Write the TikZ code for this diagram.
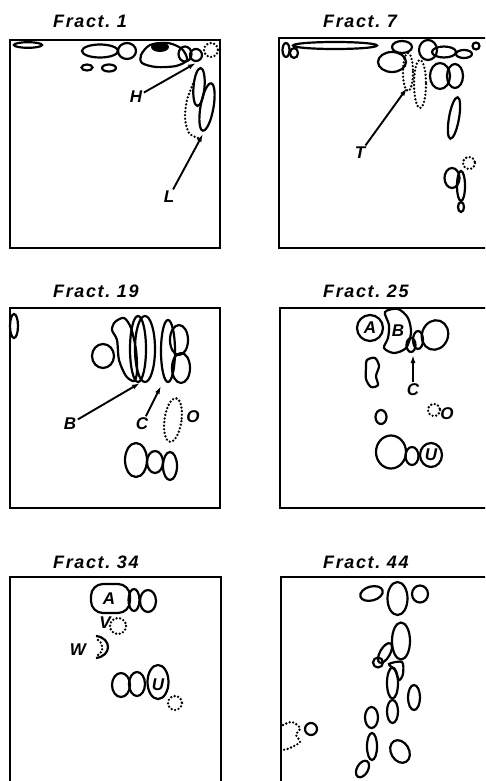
\documentclass[tikz,border=0pt]{standalone}
\usepackage{fontspec}
\newfontfamily\fractfont{Liberation Sans}[LetterSpace=9]
\usepackage{tikz}
\usetikzlibrary{arrows.meta}

\tikzset{
  frame/.style={line width=2.8pt},
  spot/.style={line width=2.2pt},
  dotspot/.style={line width=2.6pt, line cap=round, dash pattern=on 0pt off 3.6pt},
  fract/.style={font=\fractfont\bfseries\itshape\fontsize{18}{20}\selectfont, anchor=base west, inner sep=0pt},
  lbl/.style={font=\fractfont\bfseries\itshape\fontsize{17}{19}\selectfont, inner sep=1.5pt},
  arr/.style={line width=1.9pt, -{Latex[length=8pt,width=5pt]}}
}

\begin{document}
\begin{tikzpicture}[x=1pt, y=-1pt]
  \useasboundingbox (0,0) rectangle (485,781);
  \clip (0,0) rectangle (485,781);

  % --- Panel 1: Fract. 1 ---
  \draw[frame] (10,40) rectangle (220,248);
  \node[fract] (f1) at (53,28) {Fract.\ 1};
  \draw[spot] (28,45) ellipse [x radius=14, y radius=2.8];
  \draw[spot] (100,51) ellipse [x radius=18, y radius=6.5];
  \draw[spot] (127,51) ellipse [x radius=9, y radius=8];
  \draw[spot] (87,67.5) ellipse [x radius=5.5, y radius=3];
  \draw[spot] (109,68) ellipse [x radius=7, y radius=3.5];
  \draw[spot] plot[smooth cycle] coordinates {(141,55) (150,45) (168,43) (182,49) (187,60) (176,66) (156,67) (142,63)};
  \fill (160,47) ellipse [x radius=9, y radius=5];
  \draw[spot] (185,54) ellipse [x radius=6.5, y radius=7.5];
  \draw[spot] (196,55) ellipse [x radius=6, y radius=6];
  \draw[dotspot] (211,50) circle (7);
  \draw[spot, rotate around={-5:(199,87)}] (199,87) ellipse [x radius=5.5, y radius=19];
  \draw[spot, rotate around={-10:(207,107)}] (207,107) ellipse [x radius=6.5, y radius=24];
  \draw[dotspot] plot[smooth] coordinates {(193,84) (187,100) (185,118) (189,133) (198,138)};
  \node[lbl] (H) at (136,97) {H};
  \coordinate (Htip) at (196,63);
  \draw[arr] (H) -- (Htip);
  \node[lbl] (L) at (169,197) {L};
  \coordinate (Ltip) at (203,134);
  \draw[arr] (L) -- (Ltip);

  % --- Panel 2: Fract. 7 ---
  \draw[frame] (279,38) rectangle (500,248);
  \node[fract] (f7) at (323,28) {Fract.\ 7};
  \draw[spot] (286,50) ellipse [x radius=3.5, y radius=7];
  \draw[spot] (294,53) ellipse [x radius=4, y radius=5];
  \draw[spot] (335,45.5) ellipse [x radius=42, y radius=3.5];
  \draw[spot] (402,47) ellipse [x radius=10, y radius=6];
  \draw[spot] (392,62) ellipse [x radius=14, y radius=10];
  \draw[dotspot] (408,72) ellipse [x radius=5, y radius=19];
  \draw[dotspot] (420,84) ellipse [x radius=6, y radius=24];
  \draw[spot] (428,50) ellipse [x radius=9, y radius=10];
  \draw[spot] (444,52) ellipse [x radius=12, y radius=5.5];
  \draw[spot] (464,54) ellipse [x radius=8, y radius=4];
  \draw[spot] (476,46) circle (3.5);
  \draw[spot] (440,76) ellipse [x radius=10, y radius=13];
  \draw[spot] (455,76) ellipse [x radius=8, y radius=12];
  \draw[spot, rotate around={-10:(454,118)}] (454,118) ellipse [x radius=5, y radius=21];
  \draw[spot] (452,178) ellipse [x radius=7.5, y radius=10];
  \draw[spot] (461,186) ellipse [x radius=4, y radius=15];
  \draw[dotspot] (469,163) circle (6);
  \draw[spot] (461,207) ellipse [x radius=3, y radius=5];
  \node[lbl] (T) at (360,153) {T};
  \coordinate (Ttip) at (407,88);
  \draw[arr] (T) -- (Ttip);

  % --- Panel 3: Fract. 19 ---
  \draw[frame] (10,308) rectangle (220,508);
  \node[fract] (f19) at (53,297) {Fract.\ 19};
  \draw[spot] (14,326) ellipse [x radius=4, y radius=12];
  \draw[spot] (103,356) ellipse [x radius=11, y radius=12];
  \draw[spot] plot[smooth cycle] coordinates {(115,322) (124,318) (131,328) (136,350) (137,372) (134,381) (126,376) (119,360) (117,340) (112,330)};
  \draw[spot] (138,349) ellipse [x radius=8, y radius=33];
  \draw[spot] (145,349) ellipse [x radius=10, y radius=33];
  \draw[spot] (168,351) ellipse [x radius=7, y radius=31];
  \draw[spot] (179,340) ellipse [x radius=9, y radius=15];
  \draw[spot] (181,368) ellipse [x radius=9, y radius=15];
  \draw[dotspot, rotate around={-8:(173,420)}] (173,420) ellipse [x radius=8.5, y radius=22];
  \node[lbl] (O19) at (193,417) {O};
  \node[lbl] (B19) at (70,424) {B};
  \coordinate (B19tip) at (140,383);
  \draw[arr] (B19) -- (B19tip);
  \node[lbl] (C19) at (142,424) {C};
  \coordinate (C19tip) at (161,386);
  \draw[arr] (C19) -- (C19tip);
  \draw[spot] (136,460) ellipse [x radius=11, y radius=17];
  \draw[spot] (155,462) ellipse [x radius=8, y radius=11];
  \draw[spot] (170,466) ellipse [x radius=7, y radius=14];

  % --- Panel 4: Fract. 25 ---
  \draw[frame] (280,308) rectangle (500,508);
  \node[fract] (f25) at (323,297) {Fract.\ 25};
  \draw[spot] (370,328) circle (13);
  \node[lbl] (A25) at (370,328) {A};
  \draw[spot] plot[smooth cycle] coordinates {(385,312) (398,309) (408,318) (411,333) (406,348) (394,353) (384,348) (388,338) (389,325)};
  \node[lbl] (B25) at (398,331) {B};
  \draw[spot] (411,345) ellipse [x radius=4.5, y radius=7];
  \draw[spot] (418,340) ellipse [x radius=5, y radius=9];
  \draw[spot, rotate around={-20:(435,335)}] (435,335) ellipse [x radius=13, y radius=15];
  \node[lbl] (C25) at (413,390) {C};
  \coordinate (C25tip) at (413,355);
  \draw[arr] (C25) -- (C25tip);
  \draw[spot] plot[smooth cycle] coordinates {(367,360) (375,358) (379,366) (376,376) (378,385) (371,387) (366,379) (366,368)};
  \draw[spot] (381,417) ellipse [x radius=5.5, y radius=7];
  \draw[dotspot] (434,410) circle (6);
  \node[lbl] (O25) at (447,414) {O};
  \draw[spot] (391,452) ellipse [x radius=15, y radius=16.5];
  \draw[spot] (412,456) ellipse [x radius=6.5, y radius=9];
  \draw[spot] (431,455) ellipse [x radius=11, y radius=12];
  \node[lbl] (U25) at (431,455) {U};

  % --- Panel 5: Fract. 34 ---
  \draw[frame] (10,577) rectangle (221,800);
  \node[fract] (f34) at (53,568) {Fract.\ 34};
  \draw[spot, rounded corners=12pt] (91,584) rectangle (130,613);
  \node[lbl] (A34) at (109,599) {A};
  \draw[spot] (134,600) ellipse [x radius=5.5, y radius=11];
  \draw[spot] (148,601) ellipse [x radius=8, y radius=11];
  \node[lbl] (V34) at (105,623) {V};
  \draw[dotspot] (118,626) circle (8);
  \node[lbl] (W34) at (78,650) {W};
  \draw[spot] (96,636) .. controls (112,638) and (112,656) .. (96,658);
  \draw[dotspot] (98,640) .. controls (104,644) and (104,652) .. (98,655);
  \draw[spot] (121,685) ellipse [x radius=9, y radius=12];
  \draw[spot] (137,684) ellipse [x radius=8, y radius=12];
  \draw[spot] (158,682) ellipse [x radius=10.5, y radius=17];
  \node[lbl] (U34) at (158,685) {U};
  \draw[dotspot] (175,703) circle (7);

  % --- Panel 6: Fract. 44 ---
  \draw[frame] (281,577) rectangle (500,800);
  \node[fract] (f44) at (323,568) {Fract.\ 44};
  \draw[spot, rotate around={15:(371.5,593.5)}] (371.5,593.5) ellipse [x radius=11.5, y radius=7];
  \draw[spot] (397.5,598.5) ellipse [x radius=10, y radius=16.5];
  \draw[spot] (420,594) ellipse [x radius=8, y radius=8.5];
  \draw[spot] (401,641) ellipse [x radius=9, y radius=18.5];
  \draw[spot, rotate around={-30:(385,653)}] (385,653) ellipse [x radius=5, y radius=11];
  \draw[spot] (378,662.5) circle (5);
  \draw[spot] plot[smooth cycle] coordinates {(389,664) (402,662) (403,674) (399,680) (395,670)};
  \draw[spot] (392.5,683) ellipse [x radius=5.5, y radius=15.5];
  \draw[spot] (414,697.5) ellipse [x radius=6, y radius=12.5];
  \draw[spot] (392.5,711.5) ellipse [x radius=5.5, y radius=11.5];
  \draw[spot] (371.5,717.5) ellipse [x radius=6.5, y radius=10.5];
  \draw[spot, rotate around={30:(400,751.5)}] (400,751.5) ellipse [x radius=9, y radius=12];
  \draw[spot] (372,746.5) ellipse [x radius=5, y radius=13.5];
  \draw[spot, rotate around={-30:(362.5,769)}] (362.5,769) ellipse [x radius=5.5, y radius=9];
  \draw[dotspot] plot[smooth] coordinates {(283,725) (292,722) (300,728) (296,735) (300,742) (290,748) (283,750)};
  \draw[spot] (311,729) circle (6);
\end{tikzpicture}
\end{document}
